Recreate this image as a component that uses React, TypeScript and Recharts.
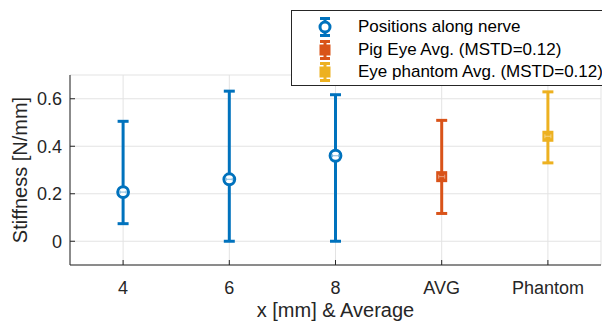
import React from 'react';
import { ComposedChart, Scatter, XAxis, YAxis, CartesianGrid, ErrorBar, Legend } from 'recharts';

const categories = ['4', '6', '8', 'AVG', 'Phantom'];
const yTicks = [0, 0.2, 0.4, 0.6];

const nerveX = [1, 2, 3];
const nerveMean = [0.207, 0.261, 0.36];
const nerveLow = [0.074, 0.0, 0.0];
const nerveHigh = [0.505, 0.632, 0.617];

const pigX = [4];
const pigMean = [0.272];
const pigLow = [0.117];
const pigHigh = [0.509];

const phantomX = [5];
const phantomMean = [0.442];
const phantomLow = [0.33];
const phantomHigh = [0.629];

const BLUE = '#0072BD';
const ORANGE = '#D95319';
const YELLOW = '#EDB120';
const AXIS = '#262626';
const FONT = '"Liberation Sans", Arial, Helvetica, sans-serif';

const build = (xs: number[], m: number[], lo: number[], hi: number[]) =>
  xs.map((x, i) => ({ x, y: m[i], err: [m[i] - lo[i], hi[i] - m[i]] }));

const nerveData = build(nerveX, nerveMean, nerveLow, nerveHigh);
const pigData = build(pigX, pigMean, pigLow, pigHigh);
const phantomData = build(phantomX, phantomMean, phantomLow, phantomHigh);

const series = [
  { name: 'Positions along nerve', color: BLUE, marker: 'circle' },
  { name: 'Pig Eye Avg. (MSTD=0.12)', color: ORANGE, marker: 'square' },
  { name: 'Eye phantom Avg. (MSTD=0.12)', color: YELLOW, marker: 'square' },
];

const CircleMarker = (props: any) => {
  const { cx, cy } = props;
  if (cx == null || cy == null) return null;
  return (
    <g>
      <circle cx={cx} cy={cy} r={5.4} fill="#fff" stroke={BLUE} strokeWidth={3} />
      <path d={`M${cx - 3},${cy}H${cx + 3}M${cx - 3},${cy - 1.5}V${cy + 1.5}M${cx + 3},${cy - 1.5}V${cy + 1.5}`} stroke={BLUE} strokeWidth={1} opacity={0.5} />
    </g>
  );
};

const makeSquare = (color: string) => (props: any) => {
  const { cx, cy } = props;
  if (cx == null || cy == null) return null;
  return (
    <g>
      <rect x={cx - 5.5} y={cy - 5.5} width={11} height={11} fill={color} />
      <path d={`M${cx - 3},${cy}H${cx + 3}M${cx - 3},${cy - 2}V${cy + 2}M${cx + 3},${cy - 2}V${cy + 2}`} stroke="#fff" strokeWidth={1} opacity={0.45} />
    </g>
  );
};

const LegendIcon = ({ color, marker }: { color: string; marker: string }) => (
  <svg width={16} height={20} style={{ display: 'block' }}>
    <path d="M3,1.5H13M8,1.5V18.5M3,18.5H13" stroke={color} strokeWidth={3} fill="none" />
    {marker === 'circle' ? (
      <circle cx={8} cy={10} r={5} fill="#fff" stroke={color} strokeWidth={3} />
    ) : (
      <rect x={2.5} y={4.5} width={11} height={11} fill={color} />
    )}
  </svg>
);

const renderLegend = (props: any) => {
  const payload = [...(props.payload || [])].sort(
    (a: any, b: any) => series.findIndex((s) => s.name === a.value) - series.findIndex((s) => s.name === b.value)
  );
  return (
    <div
      style={{
        boxSizing: 'border-box',
        width: 330,
        height: 76,
        border: `1px solid ${AXIS}`,
        background: '#fff',
        fontFamily: FONT,
        fontSize: 17,
        color: '#000',
        paddingTop: 5,
      }}
    >
      {payload.map((entry: any, i: number) => {
        const cfg = series.find((s) => s.name === entry.value) || series[i];
        return (
          <div key={i} style={{ display: 'flex', alignItems: 'center', height: 22.5, position: 'relative' }}>
            <div style={{ position: 'absolute', left: 25 }}>
              <LegendIcon color={cfg.color} marker={cfg.marker} />
            </div>
            <span style={{ position: 'absolute', left: 66, whiteSpace: 'nowrap', lineHeight: '20px' }}>{entry.value}</span>
          </div>
        );
      })}
    </div>
  );
};

const XTick = (props: any) => {
  const { x, y, payload } = props;
  return (
    <text x={x} y={y + 34} textAnchor="middle" fontFamily={FONT} fontSize={18} fill={AXIS}>
      {categories[payload.value - 1]}
    </text>
  );
};

const YTick = (props: any) => {
  const { x, y, payload } = props;
  return (
    <text x={x} y={y + 6.5} textAnchor="end" fontFamily={FONT} fontSize={18} fill={AXIS}>
      {String(payload.value)}
    </text>
  );
};

const YLabel = (props: any) => {
  const vb = props.viewBox || {};
  const cy = vb.y + vb.height / 2;
  return (
    <text transform={`translate(26.5,${cy}) rotate(-90)`} textAnchor="middle" fontFamily={FONT} fontSize={20} fill={AXIS}>
      Stiffness [N/mm]
    </text>
  );
};

const XLabel = (props: any) => {
  const vb = props.viewBox || {};
  const cx = vb.x + vb.width / 2;
  return (
    <text x={cx} y={vb.y + 52} textAnchor="middle" fontFamily={FONT} fontSize={20} fill={AXIS}>
      x [mm] &amp; Average
    </text>
  );
};

export default function App() {
  return (
    <div style={{ position: 'absolute', left: 0, top: 0, width: 602, height: 322, overflow: 'hidden', background: '#fff' }}>
      <ComposedChart width={602} height={322} margin={{ top: 75, right: 1, bottom: 0, left: 0 }}>
        <CartesianGrid stroke="#e3e3e3" strokeWidth={1} />
        <XAxis
          type="number"
          dataKey="x"
          domain={[0.5, 5.5]}
          ticks={[1, 2, 3, 4, 5]}
          interval={0}
          height={57}
          tickSize={-5}
          tickMargin={0}
          tick={<XTick />}
          axisLine={{ stroke: AXIS }}
          tickLine={{ stroke: AXIS }}
          label={<XLabel />}
          allowDataOverflow
        />
        <XAxis
          xAxisId="top"
          orientation="top"
          type="number"
          dataKey="x"
          domain={[0.5, 5.5]}
          ticks={[1, 2, 3, 4, 5]}
          height={0}
          tickSize={-5}
          tick={false}
          axisLine={{ stroke: AXIS }}
          tickLine={{ stroke: AXIS }}
          allowDataOverflow
        />
        <YAxis
          type="number"
          dataKey="y"
          domain={[-0.1, 0.7]}
          ticks={yTicks}
          interval={0}
          width={70}
          tickSize={-5}
          tickMargin={13}
          tick={<YTick />}
          axisLine={{ stroke: AXIS }}
          tickLine={{ stroke: AXIS }}
          label={<YLabel />}
          allowDataOverflow
        />
        <YAxis
          yAxisId="right"
          orientation="right"
          type="number"
          dataKey="y"
          domain={[-0.1, 0.7]}
          ticks={yTicks}
          width={0}
          tickSize={-5}
          tick={false}
          axisLine={{ stroke: AXIS }}
          tickLine={{ stroke: AXIS }}
          allowDataOverflow
        />
        <Legend
          layout="horizontal"
          verticalAlign="middle"
          align="center"
          content={renderLegend}
          wrapperStyle={{ position: 'absolute', left: 291, top: 10, width: 330, height: 76 }}
        />
        <Scatter name={series[0].name} data={nerveData} dataKey="y" fill={BLUE} shape={<CircleMarker />} isAnimationActive={false} legendType="circle">
          <ErrorBar dataKey="err" direction="y" width={5.5} stroke={BLUE} strokeWidth={3} />
        </Scatter>
        <Scatter name={series[1].name} data={pigData} dataKey="y" fill={ORANGE} shape={makeSquare(ORANGE)} isAnimationActive={false} legendType="square">
          <ErrorBar dataKey="err" direction="y" width={5.5} stroke={ORANGE} strokeWidth={3} />
        </Scatter>
        <Scatter name={series[2].name} data={phantomData} dataKey="y" fill={YELLOW} shape={makeSquare(YELLOW)} isAnimationActive={false} legendType="square">
          <ErrorBar dataKey="err" direction="y" width={5.5} stroke={YELLOW} strokeWidth={3} />
        </Scatter>
      </ComposedChart>
    </div>
  );
}
